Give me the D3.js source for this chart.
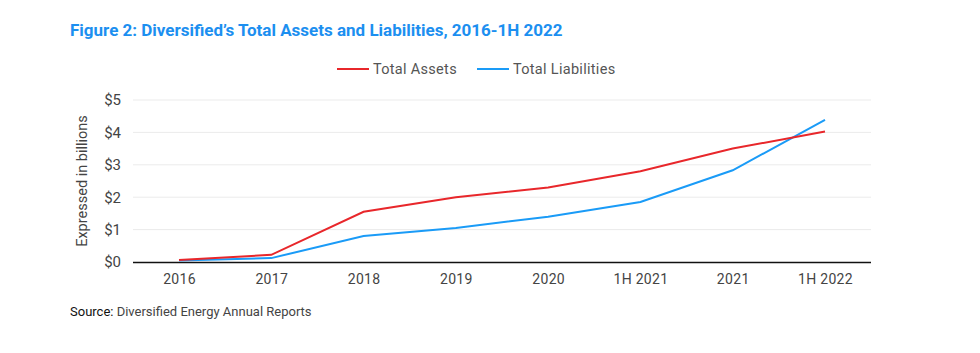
<!DOCTYPE html>
<html><head><meta charset="utf-8">
<script src="https://cdn.jsdelivr.net/npm/d3@7/dist/d3.min.js"></script>
<style>
body{margin:0;background:#fff;}
svg{display:block;font-family:Roboto, "Open Sans", sans-serif;}
</style></head>
<body>
<svg id="chart" width="980" height="353"></svg>
<script>
const categories = ["2016","2017","2018","2019","2020","1H 2021","2021","1H 2022"];
const totalAssets = [0.06,0.22,1.55,2.0,2.3,2.8,3.5,4.03];
const totalLiabilities = [0.05,0.12,0.8,1.05,1.4,1.85,2.83,4.39];
const yTicks = [0,1,2,3,4,5];
const seriesNames = ["Total Assets","Total Liabilities"];
const colors = ["#e8272b","#1a9bf7"];

const svg = d3.select("#chart");
const x = d3.scalePoint().domain(categories).range([179, 825]);
const y = d3.scaleLinear().domain([0,5]).range([262, 100]);

svg.append("text").attr("x",70).attr("y",36)
  .attr("fill","#1c8ff0").attr("font-weight","bold").attr("font-size",17)
  .text("Figure 2: Diversified\u2019s Total Assets and Liabilities, 2016-1H 2022");

// gridlines
svg.append("g").selectAll("line").data(yTicks.filter(d=>d>0)).join("line")
  .attr("x1",133).attr("x2",871).attr("y1",d=>y(d)).attr("y2",d=>y(d))
  .attr("stroke","#ebebeb").attr("stroke-width",1);

// y axis labels
const yAxis = d3.axisLeft(y).tickValues(yTicks).tickFormat(d=>"$"+d).tickSize(0).tickPadding(0);
const gy = svg.append("g").attr("transform","translate(121,0)").call(yAxis);
gy.select(".domain").remove();
gy.selectAll("text").attr("font-size",15).attr("fill","#444").attr("font-family","Roboto, sans-serif");

// x axis
const xAxis = d3.axisBottom(x).tickSize(0).tickPadding(12);
const gx = svg.append("g").attr("transform","translate(0,262)").call(xAxis);
gx.select(".domain").remove();
gx.selectAll("text").attr("font-size",14).attr("fill","#444").attr("font-family","Roboto, sans-serif").attr("letter-spacing","0.3px");
svg.append("line").attr("x1",133).attr("x2",871).attr("y1",262.5).attr("y2",262.5)
  .attr("stroke","#111").attr("stroke-width",1.5);

// y title
svg.append("text").attr("transform","translate(87,181) rotate(-90)")
  .attr("text-anchor","middle").attr("font-size",14.5).attr("fill","#444")
  .text("Expressed in billions");

// lines
const line = d3.line().x((d,i)=>x(categories[i])).y(d=>y(d));
[totalLiabilities,totalAssets].forEach((s,k)=>{
  const idx = k===0?1:0;
  svg.append("path").datum(s).attr("d",line).attr("fill","none")
    .attr("stroke",colors[idx]).attr("stroke-width",2);
});

// legend
const legX = [337,477];
seriesNames.forEach((n,i)=>{
  svg.append("line").attr("x1",legX[i]).attr("x2",legX[i]+32).attr("y1",69).attr("y2",69)
    .attr("stroke",colors[i]).attr("stroke-width",2);
  svg.append("text").attr("x",legX[i]+36).attr("y",74).attr("font-size",14.5).attr("fill","#555")
    .attr("letter-spacing","0.3px").text(n);
});

// source
const src = svg.append("text").attr("x",70).attr("y",316).attr("font-size",13).attr("fill","#444");
src.append("tspan").attr("fill","#111").text("Source:");
src.append("tspan").text(" Diversified Energy Annual Reports");
</script>
</body></html>
